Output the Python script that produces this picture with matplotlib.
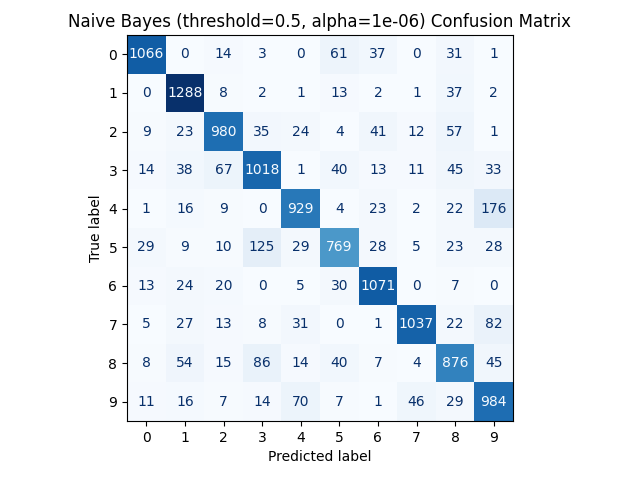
import numpy as np
import matplotlib.pyplot as plt

labels = [str(i) for i in range(10)]
cm = np.array([
    [1066, 0, 14, 3, 0, 61, 37, 0, 31, 1],
    [0, 1288, 8, 2, 1, 13, 2, 1, 37, 2],
    [9, 23, 980, 35, 24, 4, 41, 12, 57, 1],
    [14, 38, 67, 1018, 1, 40, 13, 11, 45, 33],
    [1, 16, 9, 0, 929, 4, 23, 2, 22, 176],
    [29, 9, 10, 125, 29, 769, 28, 5, 23, 28],
    [13, 24, 20, 0, 5, 30, 1071, 0, 7, 0],
    [5, 27, 13, 8, 31, 0, 1, 1037, 22, 82],
    [8, 54, 15, 86, 14, 40, 7, 4, 876, 45],
    [11, 16, 7, 14, 70, 7, 1, 46, 29, 984],
])

fig = plt.figure(figsize=(6.4, 4.8), dpi=100)
ax = fig.add_axes([127 / 640, 59 / 480, 386 / 640, 386 / 480])
cmap = plt.cm.Blues
ax.imshow(cm, interpolation='nearest', cmap=cmap)
thresh = (cm.max() + cm.min()) / 2.0
for i in range(cm.shape[0]):
    for j in range(cm.shape[1]):
        color = cmap(0) if cm[i, j] > thresh else cmap(256)
        ax.text(j, i, format(cm[i, j], 'd'), ha='center', va='center', color=color)
ax.set_xticks(range(10))
ax.set_yticks(range(10))
ax.set_xticklabels(labels)
ax.set_yticklabels(labels)
ax.set_xlabel('Predicted label')
ax.set_ylabel('True label')
ax.set_title('Naive Bayes (threshold=0.5, alpha=1e-06) Confusion Matrix')
fig.savefig('out.png')
